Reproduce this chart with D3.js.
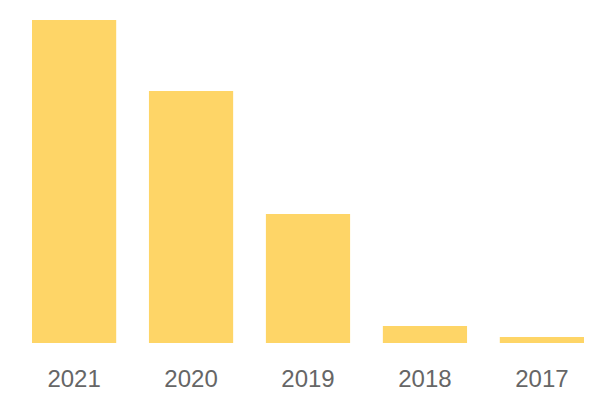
<!DOCTYPE html>
<html><head><meta charset="utf-8">
<script src="https://cdn.jsdelivr.net/npm/d3@7"></script>
<style>body{margin:0;background:#fff}</style>
</head><body>
<svg id="c" width="600" height="400"></svg>
<script>
const categories = ["2021", "2020", "2019", "2018", "2017"];
const values = [323, 252, 129, 17, 6];

const svg = d3.select("#c");
const x = d3.scaleBand().domain(categories).range([32, 584]).paddingInner(0.28).paddingOuter(0);
const y = d3.scaleLinear().domain([0, d3.max(values)]).range([343, 20]);

svg.selectAll("rect").data(categories).join("rect")
  .attr("x", d => x(d))
  .attr("width", x.bandwidth())
  .attr("y", (d, i) => y(values[i]))
  .attr("height", (d, i) => y(0) - y(values[i]))
  .attr("fill", "#fed567");

const ax = svg.append("g").attr("transform", "translate(0,343)")
  .call(d3.axisBottom(x).tickSize(0).tickPadding(27));
ax.select(".domain").remove();
ax.selectAll("text").attr("fill", "#666").style("font-family", "'Liberation Sans', Arial, sans-serif").style("font-size", "24px");
</script>
</body></html>
